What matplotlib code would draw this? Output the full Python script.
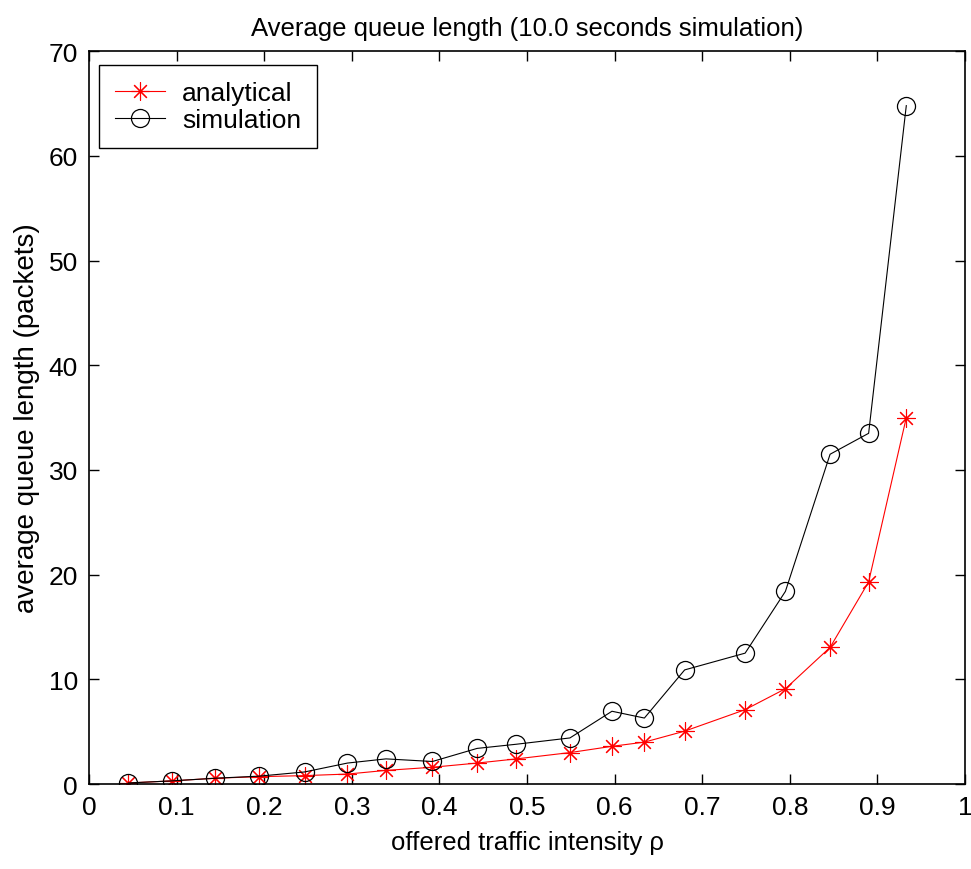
import numpy as np
import matplotlib.pyplot as plt

plt.rcParams['font.family'] = ['Liberation Sans', 'DejaVu Sans']

# offered load (rho) at each run
rho = [0.045, 0.095, 0.144, 0.194, 0.246, 0.295, 0.339, 0.392, 0.443, 0.488,
       0.549, 0.597, 0.634, 0.680, 0.749, 0.795, 0.846, 0.890, 0.933]

analytical = [0.1, 0.3, 0.55, 0.7, 0.8, 0.95, 1.3, 1.6, 2.0, 2.4,
              3.0, 3.6, 4.0, 5.05, 7.1, 9.1, 13.05, 19.3, 35.0]

simulation = [0.1, 0.3, 0.55, 0.75, 1.15, 2.0, 2.4, 2.15, 3.4, 3.8,
              4.4, 6.95, 6.3, 10.9, 12.5, 18.4, 31.5, 33.5, 64.8]

xticks = [0, 0.1, 0.2, 0.3, 0.4, 0.5, 0.6, 0.7, 0.8, 0.9, 1]
xticklabels = ['0', '0.1', '0.2', '0.3', '0.4', '0.5', '0.6', '0.7', '0.8', '0.9', '1']
yticks = [0, 10, 20, 30, 40, 50, 60, 70]

fig = plt.figure(figsize=(9.71, 8.70), dpi=100)
ax = fig.add_axes([0.0917, 0.0977, 0.9021, 0.8423])

asterisk = (8, 2, 0)
ax.plot(rho, analytical, color='red', lw=0.8, marker=asterisk, ms=13, mew=0.8,
        label='analytical')
ax.plot(rho, simulation, color='black', lw=0.8, marker='o', ms=13, mew=0.9,
        mfc='none', label='simulation')

ax.set_xlim(0, 1)
ax.set_ylim(0, 70)
ax.set_xticks(xticks)
ax.set_xticklabels(xticklabels)
ax.set_yticks(yticks)
ax.tick_params(direction='in', top=True, right=True, length=7, width=1,
               labelsize=19, pad=8)
for s in ax.spines.values():
    s.set_linewidth(1.2)

ax.set_title('Average queue length (10.0 seconds simulation)', fontsize=18.5, pad=12)
ax.set_xlabel('offered traffic intensity \u03c1', fontsize=18.5, labelpad=8)
ax.set_ylabel('average queue length (packets)', fontsize=20, labelpad=6)

leg = ax.legend(loc='upper left', fontsize=19, fancybox=False, framealpha=1,
                edgecolor='black', handlelength=1.9, handletextpad=0.65,
                borderpad=0.6, labelspacing=0.13, borderaxespad=0,
                bbox_to_anchor=(0.011, 0.981))
leg.get_frame().set_linewidth(1.0)

fig.savefig('out.png', dpi=100)
